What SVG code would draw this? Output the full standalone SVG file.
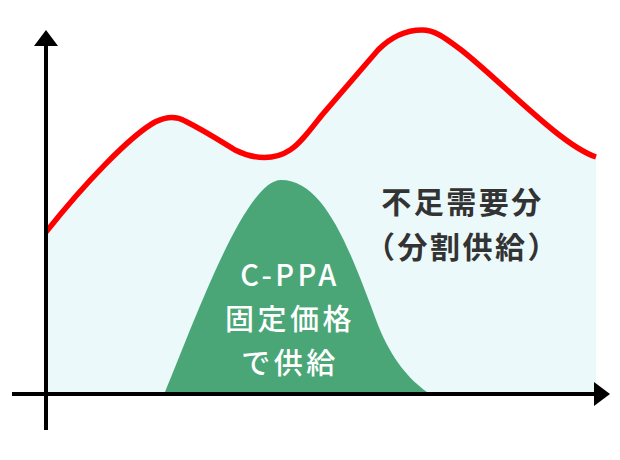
<svg xmlns="http://www.w3.org/2000/svg" width="620" height="460" viewBox="0 0 620 460">
<style>
text{font-family:"Noto Sans CJK JP","Noto Sans",sans-serif;text-anchor:middle}
.d{font-size:30px;letter-spacing:2.5px;fill:#333;font-weight:700}
.w{font-size:29px;letter-spacing:3.5px;fill:#fff;font-weight:500}
.ax{fill:none;stroke:#000;stroke-width:4}
</style>
<rect width="620" height="460" fill="#fff"/>
<g id="area-total"><path d="M46 232C85 183 130 136 155 122C165 117 175 115 185 121C205 131 222 142 235 150C255 160 275 160 290 150C300 144 310 130 322 115L378 50C395 33 410 30 422 30C435 30 445 38 460 49C500 80 560 145 596 157L596 394L46 394Z" fill="#ebf9fb"/></g>
<g id="area-cppa"><path d="M165 392C195 320 245 180 281 180C325 180 350 250 378 325C392 360 410 380 427 392Z" fill="#4aa677"/></g>
<g id="curve"><path d="M46 232C85 183 130 136 155 122C165 117 175 115 185 121C205 131 222 142 235 150C255 160 275 160 290 150C300 144 310 130 322 115L378 50C395 33 410 30 422 30C435 30 445 38 460 49C500 80 560 145 596 157" fill="none" stroke="#f00" stroke-width="5.5"/></g>
<g id="connectors">
<path class="ax" d="M46 430V44"/><path d="M46 30L58 46H34Z"/>
<path class="ax" d="M12 394H596"/><path d="M610 394L594 382V406Z"/>
</g>
<g id="label-shortage"><text class="d" x="462.5" y="213">不足需要分</text><text class="d" x="462.5" y="258">（分割供給）</text></g>
<g id="label-cppa"><text class="w" x="290" y="286">C-PPA</text><text class="w" x="290" y="330">固定価格</text><text class="w" x="290" y="374">で供給</text></g>
</svg>
